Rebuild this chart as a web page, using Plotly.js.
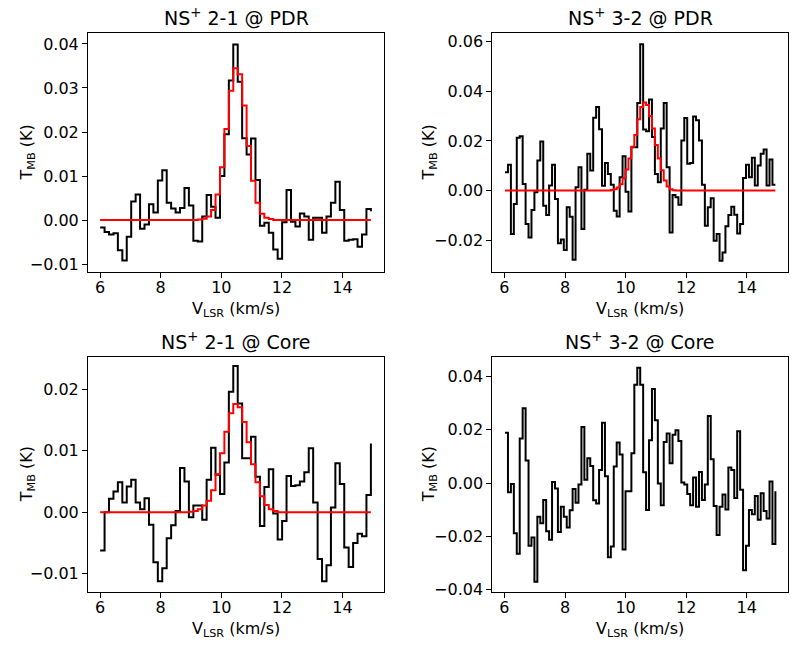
<!DOCTYPE html>
<html>
<head>
<meta charset="utf-8">
<script src="https://cdn.plot.ly/plotly-3.0.1.min.js"></script>
<style>html,body{margin:0;padding:0;background:#fff;}#chart{width:800px;height:645px;}</style>
</head>
<body>
<div id="chart"></div>
<script>
// Velocity channels (km/s) for NS+ 2-1 spectra
const vel21 = [6.000,6.147,6.293,6.440,6.586,6.733,6.879,7.026,7.172,7.319,7.465,7.612,7.758,7.905,8.051,8.198,8.344,8.491,8.637,8.784,8.930,9.077,9.223,9.370,9.516,9.663,9.809,9.956,10.102,10.249,10.395,10.542,10.688,10.835,10.981,11.128,11.274,11.421,11.567,11.714,11.860,12.007,12.153,12.300,12.446,12.593,12.739,12.886,13.032,13.179,13.325,13.472,13.618,13.765,13.911,14.058,14.204,14.351,14.497,14.644,14.790,14.937];
// Velocity channels (km/s) for NS+ 3-2 spectra
const vel32 = [6.020,6.117,6.214,6.311,6.408,6.505,6.602,6.699,6.796,6.893,6.990,7.087,7.184,7.281,7.378,7.475,7.572,7.669,7.766,7.863,7.960,8.057,8.154,8.251,8.348,8.445,8.542,8.639,8.736,8.833,8.930,9.027,9.124,9.221,9.318,9.415,9.512,9.609,9.706,9.803,9.900,9.997,10.094,10.191,10.288,10.385,10.482,10.579,10.676,10.773,10.870,10.967,11.064,11.161,11.258,11.355,11.452,11.549,11.646,11.743,11.840,11.937,12.034,12.131,12.228,12.325,12.422,12.519,12.616,12.713,12.810,12.907,13.004,13.101,13.198,13.295,13.392,13.489,13.586,13.683,13.780,13.877,13.974,14.071,14.168,14.265,14.362,14.459,14.556,14.653,14.750,14.847,14.944];

// NS+ 2-1 @ PDR
const pdr21 = [-0.0017,-0.0027,-0.0033,-0.0030,-0.0069,-0.0092,-0.0038,0.0042,0.0058,-0.0020,-0.0010,0.0036,0.0017,0.0090,0.0113,0.0039,0.0026,0.0017,0.0027,0.0073,0.0033,-0.0047,-0.0049,0.0008,0.0057,0.0030,0.0005,0.0100,0.0195,0.0317,0.0399,0.0314,0.0186,0.0149,0.0185,0.0091,-0.0013,-0.0006,-0.0029,-0.0067,-0.0088,-0.0005,0.0068,-0.0004,-0.0015,0.0015,0.0008,-0.0045,0.0005,0.0005,-0.0029,0.0008,0.0039,0.0087,0.0023,-0.0047,-0.0045,-0.0044,-0.0061,-0.0033,0.0025,0.0020];
const pdr21Fit = [0,0,0,0,0,0,0,0,0,0,0,0,0,0,0,0,0,0,0,0,0,0,0.0001,0.0003,0.0008,0.0023,0.0058,0.0120,0.0207,0.0294,0.0345,0.0331,0.0260,0.0168,0.0089,0.0039,0.0014,0.0005,0.0002,0,0,0,0,0,0,0,0,0,0,0,0,0,0,0,0,0,0,0,0,0,0,0];

// NS+ 3-2 @ PDR
const pdr32 = [0.0074,0.0104,-0.0175,-0.0054,0.0213,0.0219,0.0027,-0.0135,-0.0189,-0.0078,-0.0007,0.0121,0.0198,-0.0061,-0.0098,0.0020,0.0104,-0.0034,-0.0212,-0.0197,-0.0240,-0.0067,-0.0105,-0.0279,0.0013,0.0094,-0.0155,0.0003,0.0148,0.0081,0.0294,0.0337,0.0247,0.0019,0.0111,0.0067,0.0024,-0.0081,-0.0104,0.0054,0.0138,-0.0005,-0.0084,0.0175,0.0175,0.0353,0.0590,0.0246,0.0239,0.0367,0.0216,0.0067,0.0034,0.0250,0.0353,0.0094,-0.0169,-0.0018,-0.0027,-0.0057,0.0202,0.0293,0.0108,0.0111,0.0299,0.0283,0.0202,0.0023,-0.0142,-0.0067,-0.0031,-0.0202,-0.0175,-0.0283,-0.0250,-0.0144,-0.0098,-0.0065,-0.0097,-0.0173,-0.0135,0.0051,0.0104,0.0054,0.0132,0.0020,0.0101,0.0148,0.0166,0.0020,0.0125,0.0024,0.0024];
const pdr32Fit = [0,0,0,0,0,0,0,0,0,0,0,0,0,0,0,0,0,0,0,0,0,0,0,0,0,0,0,0,0,0,0,0,0,0,0,0,0.0002,0.0005,0.0012,0.0026,0.0050,0.0085,0.0129,0.0177,0.0224,0.0288,0.0337,0.0355,0.0345,0.0301,0.0250,0.0184,0.0129,0.0082,0.0041,0.0016,0.0005,0.0001,0,0,0,0,0,0,0,0,0,0,0,0,0,0,0,0,0,0,0,0,0,0,0,0,0,0,0,0,0,0,0,0,0,0,0];

// NS+ 2-1 @ Core
const core21 = [-0.0062,0.0000,0.0022,0.0034,0.0049,0.0016,0.0042,0.0053,0.0016,0.0005,0.0023,-0.0020,-0.0081,-0.0112,-0.0091,-0.0042,-0.0021,0.0002,0.0072,0.0050,-0.0008,0.0011,0.0011,-0.0012,0.0053,0.0105,0.0061,0.0030,0.0081,0.0196,0.0238,0.0177,0.0088,0.0088,0.0123,0.0058,-0.0022,0.0041,0.0070,-0.0002,-0.0044,-0.0014,0.0059,0.0043,0.0044,0.0050,0.0065,0.0104,0.0016,-0.0076,-0.0112,-0.0086,0.0008,0.0080,0.0046,-0.0057,-0.0089,-0.0050,-0.0035,-0.0039,0.0028,0.0112];
const core21Fit = [0,0,0,0,0,0,0,0,0,0,0,0,0,0,0,0,0,0,0,0,0.0001,0.0002,0.0005,0.0011,0.0019,0.0036,0.0062,0.0096,0.0131,0.0161,0.0176,0.0171,0.0147,0.0114,0.0078,0.0049,0.0026,0.0012,0.0005,0.0002,0,0,0,0,0,0,0,0,0,0,0,0,0,0,0,0,0,0,0,0,0,0];

// NS+ 3-2 @ Core
const core32 = [0.0188,-0.0035,-0.0004,-0.0188,-0.0265,0.0167,0.0280,0.0084,-0.0235,-0.0204,-0.0370,-0.0126,-0.0151,-0.0064,-0.0181,-0.0212,0.0004,-0.0021,-0.0183,-0.0089,-0.0126,-0.0167,-0.0102,-0.0022,-0.0074,-0.0006,0.0210,0.0012,0.0093,0.0064,-0.0065,-0.0077,0.0049,0.0226,0.0025,-0.0278,-0.0238,0.0062,0.0152,0.0107,-0.0249,-0.0031,-0.0031,0.0111,0.0368,0.0432,0.0368,0.0040,-0.0101,0.0160,0.0352,0.0235,-0.0002,-0.0083,0.0154,0.0185,0.0074,0.0181,0.0198,0.0157,0.0002,-0.0006,-0.0041,-0.0083,0.0021,-0.0089,0.0041,-0.0064,-0.0006,0.0251,0.0089,-0.0086,-0.0195,-0.0089,-0.0043,-0.0099,0.0058,0.0049,-0.0056,0.0194,-0.0025,-0.0327,-0.0235,-0.0101,-0.0117,-0.0049,-0.0138,-0.0038,-0.0105,-0.0133,0.0006,-0.0228,-0.0031];

const panelTitles = ['NS<sup>+</sup> 2-1 @ PDR','NS<sup>+</sup> 3-2 @ PDR','NS<sup>+</sup> 2-1 @ Core','NS<sup>+</sup> 3-2 @ Core'];
const xTickVals = [6,8,10,12,14];
const xLabel = 'V<sub>LSR</sub> (km/s)';
const yLabel = 'T<sub>MB</sub> (K)';

const FONT = 'DejaVu Sans, Liberation Sans, sans-serif';
const W = 800, H = 645;
const xDomL = [88/W, 384.3/W], xDomR = [492.3/W, 788.3/W];
const yDomT = [(H-271.7)/H, (H-33.3)/H], yDomB = [(H-591.7)/H, (H-356.7)/H];

function stepTrace(x, y, color, xa, ya) {
  return {x: x, y: y, type: 'scatter', mode: 'lines', line: {shape: 'hv', color: color, width: 2},
          xaxis: xa, yaxis: ya, hoverinfo: 'skip', showlegend: false};
}
const traces = [
  stepTrace(vel21, pdr21, '#000000', 'x', 'y'),
  stepTrace(vel21, pdr21Fit, '#ff0000', 'x', 'y'),
  stepTrace(vel32, pdr32, '#000000', 'x2', 'y2'),
  stepTrace(vel32, pdr32Fit, '#ff0000', 'x2', 'y2'),
  stepTrace(vel21, core21, '#000000', 'x3', 'y3'),
  stepTrace(vel21, core21Fit, '#ff0000', 'x3', 'y3'),
  stepTrace(vel32, core32, '#000000', 'x4', 'y4')
];

const axisBase = {showline: true, mirror: true, linecolor: '#000', linewidth: 1, ticks: 'outside', ticklen: 5,
  tickwidth: 1, tickcolor: '#000', showgrid: false, zeroline: false, automargin: false,
  tickfont: {family: FONT, size: 16, color: '#000'}};
function xax(dom, anchor, range) {
  return Object.assign({}, axisBase, {domain: dom, anchor: anchor, range: range, tickmode: 'array', tickvals: xTickVals, ticklabelstandoff: -4});
}
function yax(dom, anchor, range, dtick) {
  return Object.assign({}, axisBase, {domain: dom, anchor: anchor, range: range, tickmode: 'linear', tick0: 0, dtick: dtick, tickformat: '.2f'});
}

const ann = [];
const panels = [
  {xd: xDomL, yd: yDomT, yc: 27}, {xd: xDomR, yd: yDomT, yc: 429},
  {xd: xDomL, yd: yDomB, yc: 27}, {xd: xDomR, yd: yDomB, yc: 429}
];
panels.forEach((p, i) => {
  const cx = (p.xd[0] + p.xd[1]) / 2;
  ann.push({text: panelTitles[i], xref: 'paper', yref: 'paper', x: cx, y: p.yd[1], xanchor: 'center', yanchor: 'bottom',
    yshift: 2, showarrow: false, font: {family: FONT, size: 19, color: '#000'}});
  ann.push({text: xLabel, xref: 'paper', yref: 'paper', x: cx, y: p.yd[0], xanchor: 'center', yanchor: 'top',
    yshift: -25, showarrow: false, font: {family: FONT, size: 16, color: '#000'}});
  ann.push({text: yLabel, xref: 'paper', yref: 'paper', x: p.yc / W, y: (p.yd[0] + p.yd[1]) / 2, xanchor: 'center', yanchor: 'middle',
    textangle: -90, showarrow: false, font: {family: FONT, size: 16, color: '#000'}});
});

const layout = {
  width: W, height: H, margin: {l: 0, r: 0, t: 0, b: 0}, paper_bgcolor: '#fff', plot_bgcolor: '#fff',
  showlegend: false, font: {family: FONT, color: '#000'},
  xaxis: xax(xDomL, 'y', [5.60, 15.38]),
  yaxis: yax(yDomT, 'x', [-0.01175, 0.04243], 0.01),
  xaxis2: xax(xDomR, 'y2', [5.60, 15.37]),
  yaxis2: yax(yDomT, 'x2', [-0.0327, 0.0634], 0.02),
  xaxis3: xax(xDomL, 'y3', [5.60, 15.38]),
  yaxis3: yax(yDomB, 'x3', [-0.0129, 0.0253], 0.01),
  xaxis4: xax(xDomR, 'y4', [5.60, 15.37]),
  yaxis4: yax(yDomB, 'x4', [-0.0407, 0.0473], 0.02),
  annotations: ann
};

Plotly.newPlot('chart', traces, layout, {staticPlot: true, displayModeBar: false});
</script>
</body>
</html>
